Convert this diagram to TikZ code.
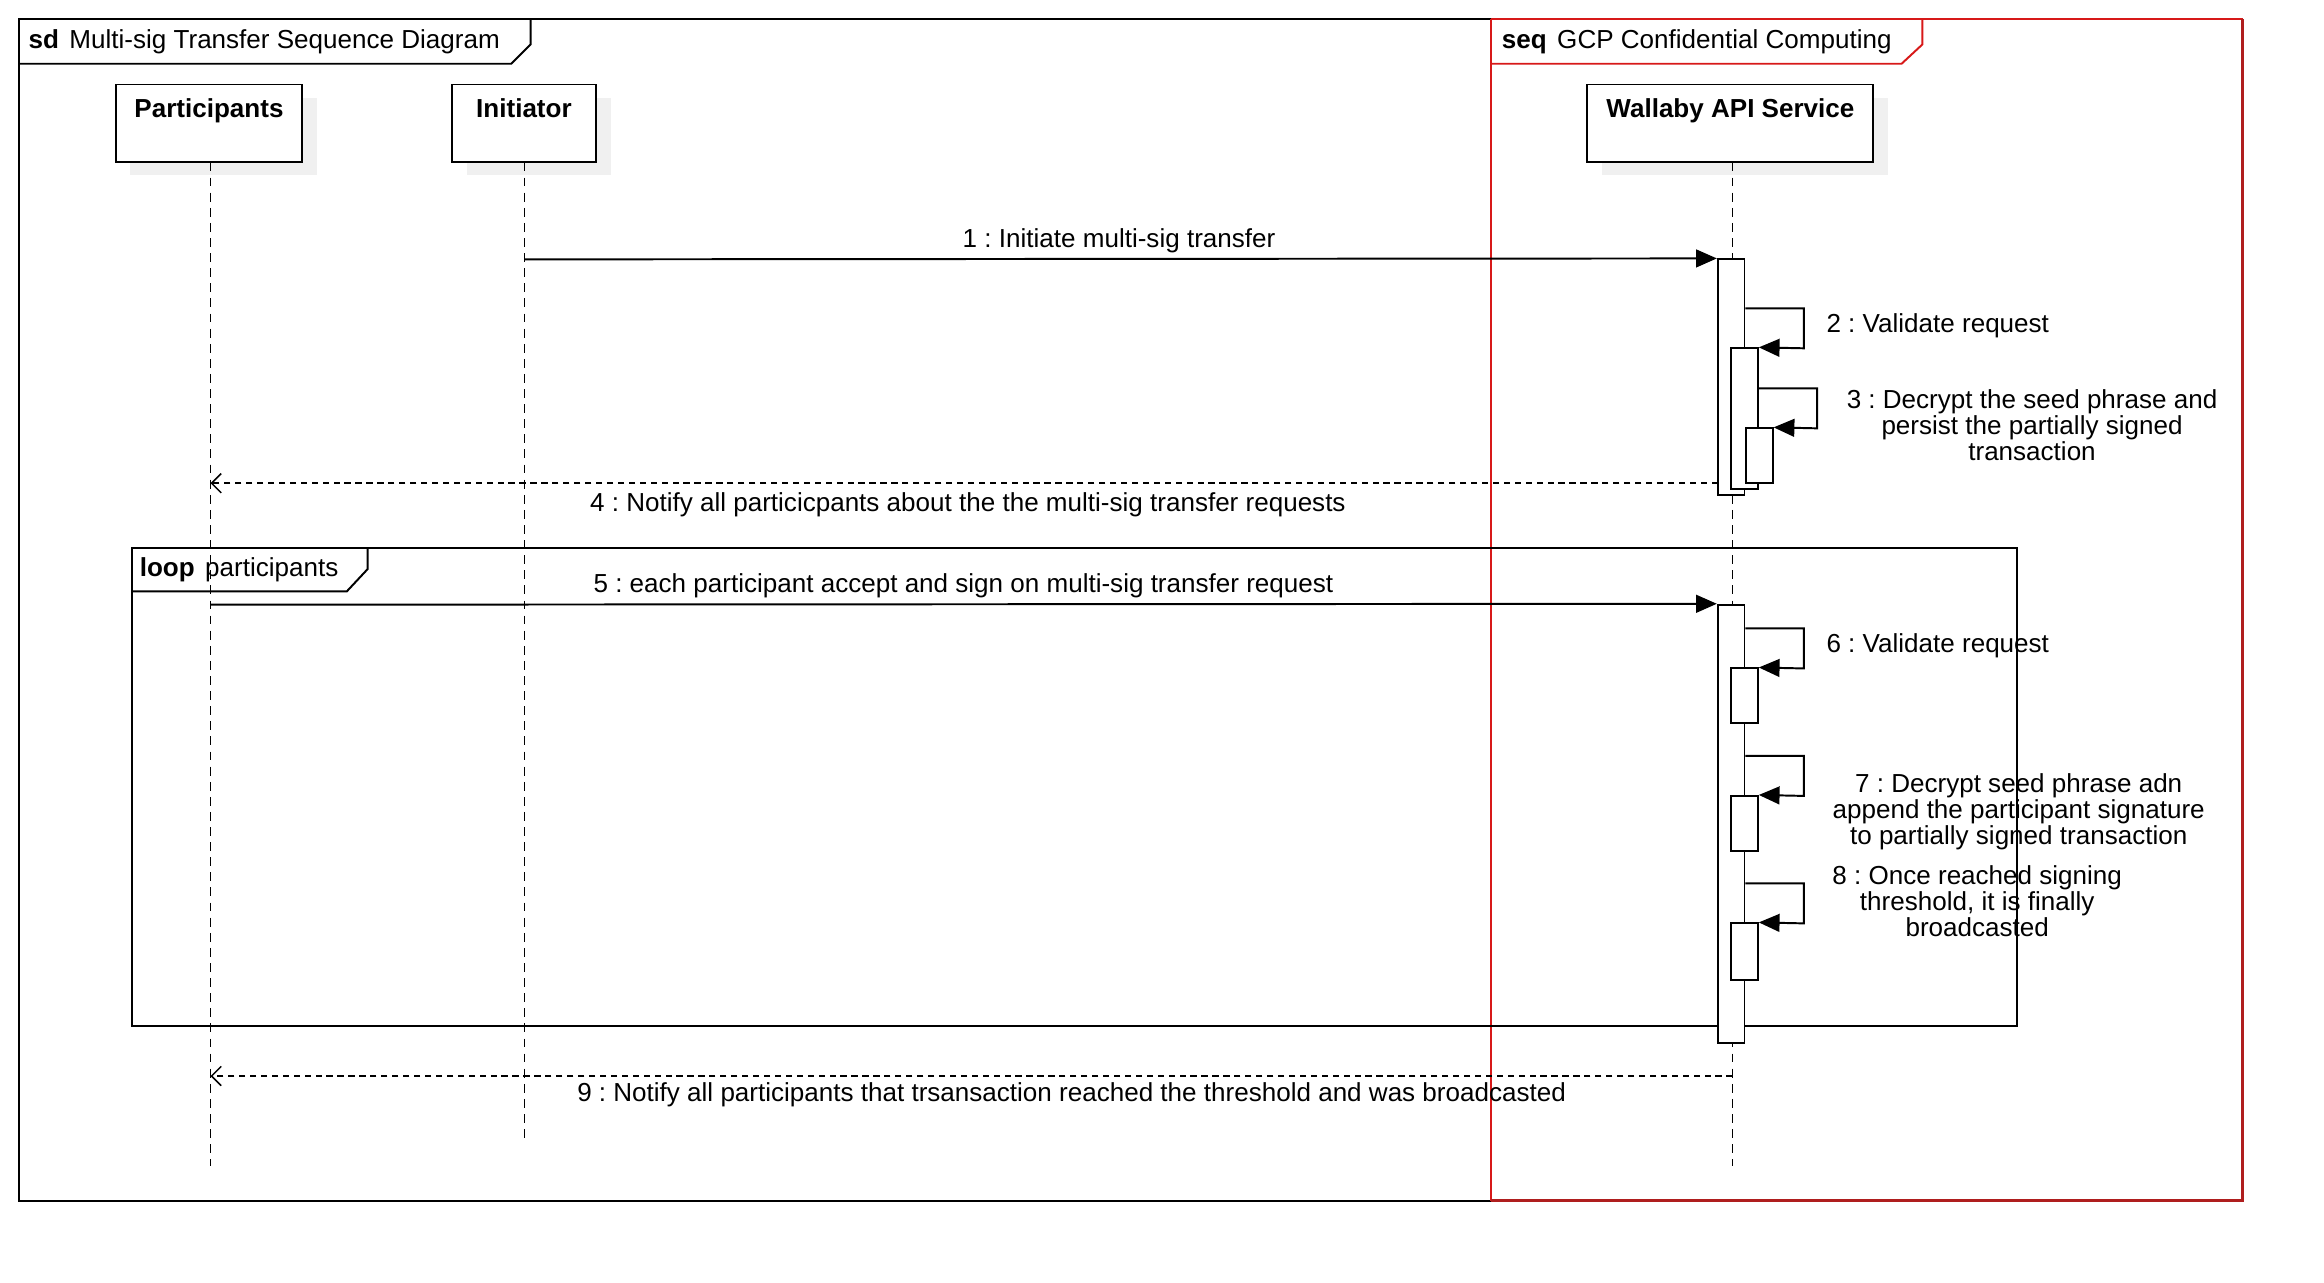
\documentclass[tikz,border=0pt]{standalone}
\usepackage{fontspec}
\setmainfont{Liberation Sans}
\usetikzlibrary{arrows.meta}
\definecolor{shadowgray}{RGB}{240,240,240}
\definecolor{framered}{RGB}{215,25,25}
\definecolor{darkred}{RGB}{175,30,30}
\frenchspacing
\begin{document}
\begin{tikzpicture}[x=0.02cm,y=-0.02cm,
  every node/.style={font=\fontsize{10}{10}\selectfont, inner sep=0pt},
  frameline/.style={line width=0.75pt},
  headbox/.style={draw, line width=0.75pt, fill=white},
  lifeline/.style={line width=0.6pt, dash pattern=on 3.4pt off 2.4pt},
  actbox/.style={draw, line width=0.75pt, fill=white},
  msg/.style={line width=0.75pt, -{Triangle[length=0.28cm,width=0.24cm]}},
  ret/.style={line width=0.6pt, dash pattern=on 2.4pt off 1.8pt, -{Straight Barb[length=0.13cm,width=0.26cm]}},
  msglabel/.style={align=center},
  baselabel/.style={anchor=base},
  headtext/.style={anchor=base, font=\fontsize{10}{10}\selectfont\bfseries}
]
\useasboundingbox (0,0) rectangle (1568,865);

% ---- outer frames ----
\draw[frameline] (1006,13) -- (13,13) -- (13,810) -- (1006,810);
\draw[framered, line width=0.5pt] (1006,13) -- (1006,810);
\draw[framered, line width=0.6pt] (1006,13) -- (1513,13);
\draw[darkred, line width=1.2pt] (1513,13) -- (1513,810) -- (1006,810);
% sd tab
\draw[frameline] (13,43) -- (345,43) -- (358,30) -- (358,13);
\node[anchor=base west] (sdt) at (19,33) {\textbf{sd}\hspace{0.4em}Multi-sig Transfer Sequence Diagram};
% seq tab
\draw[framered, line width=0.75pt] (1006,43) -- (1283,43) -- (1297,30) -- (1297,13);
\node[anchor=base west] (seqt) at (1013,33) {\textbf{seq}\hspace{0.4em}GCP Confidential Computing};

% ---- lifeline heads ----
\fill[shadowgray] (88,66) rectangle (214,118);
\fill[shadowgray] (315,66) rectangle (412,118);
\fill[shadowgray] (1081,66) rectangle (1274,118);
\node[headbox, minimum width=2.52cm, minimum height=1.04cm] (P) at (141,83) {};
\node[headbox, minimum width=1.94cm, minimum height=1.04cm] (I) at (353.5,83) {};
\node[headbox, minimum width=3.86cm, minimum height=1.04cm] (W) at (1167.5,83) {};
\node[headtext] (Pt) at (141,79) {Participants};
\node[headtext] (It) at (353.5,79) {Initiator};
\node[headtext] (Wt) at (1167.5,79) {Wallaby API Service};

% lifeline ends
\coordinate (Pend) at (142,787);
\coordinate (Iend) at (354,770);
\coordinate (Wend) at (1169,787);
\draw[lifeline] (P.south -| Pend) -- (Pend);
\draw[lifeline] (I.south -| Iend) -- (Iend);
\draw[lifeline] (W.south -| Wend) -- (Wend);

% ---- loop frame ----
\draw[frameline] (89,370) rectangle (1361,692);
\draw[frameline] (89,399) -- (234,399) -- (248,384) -- (248,370);
\node[anchor=base west] (loopt) at (94,389) {\textbf{loop}\hspace{0.4em}participants};

% ---- activations ----
\node[actbox, minimum width=0.36cm, minimum height=3.18cm] (A1) at (1168,254.5) {};
\node[actbox, minimum width=0.36cm, minimum height=1.90cm] (A2) at (1177,282.5) {};
\node[actbox, minimum width=0.36cm, minimum height=0.74cm] (A3) at (1187,307.5) {};
\node[actbox, minimum width=0.36cm, minimum height=5.92cm] (A5) at (1168,556) {};
\node[actbox, minimum width=0.36cm, minimum height=0.74cm] (A6) at (1177,469.5) {};
\node[actbox, minimum width=0.36cm, minimum height=0.74cm] (A7) at (1177,555.5) {};
\node[actbox, minimum width=0.36cm, minimum height=0.76cm] (A8) at (1177,642) {};

% ---- message 1 ----
\coordinate (m1s) at (354,175);
\draw[msg] (m1s) -- (A1.north west);
\node[baselabel] (l1) at (755,167) {1 : Initiate multi-sig transfer};

% ---- self message 2 ----
\coordinate (s2a) at (1217,208);
\coordinate (s2b) at (1217,235);
\draw[msg] (A1.east |- s2a) -- (s2a) -- (s2b) -- (A2.north east);
\node[anchor=base west] (l2) at (1232,224) {2 : Validate request};

% ---- self message 3 ----
\coordinate (s3a) at (1226,262);
\coordinate (s3b) at (1226,289);
\draw[msg] (A2.east |- s3a) -- (s3a) -- (s3b) -- (A3.north east);
\node[msglabel] (l3) at (1371,287) {3 : Decrypt the seed phrase and\\persist the partially signed\\transaction};

% ---- message 4 ----
\coordinate (m4s) at (1159,326);
\draw[ret] (m4s) -- (m4s -| Pend);
\node[baselabel] (l4) at (653,345) {4 : Notify all particicpants about the the multi-sig transfer requests};

% ---- message 5 ----
\coordinate (m5s) at (142,408);
\draw[msg] (m5s) -- (A5.north west);
\node[baselabel] (l5) at (650,400) {5 : each participant accept and sign on multi-sig transfer request};

% ---- self message 6 ----
\coordinate (s6a) at (1217,424);
\coordinate (s6b) at (1217,451);
\draw[msg] (A5.east |- s6a) -- (s6a) -- (s6b) -- (A6.north east);
\node[anchor=base west] (l6) at (1232,440) {6 : Validate request};

% ---- self message 7 ----
\coordinate (s7a) at (1217,510);
\coordinate (s7b) at (1217,537);
\draw[msg] (A5.east |- s7a) -- (s7a) -- (s7b) -- (A7.north east);
\node[msglabel] (l7) at (1362,548) {7 : Decrypt seed phrase adn\\append the participant signature\\to partially signed transaction};

% ---- self message 8 ----
\coordinate (s8a) at (1217,596);
\coordinate (s8b) at (1217,623);
\draw[msg] (A5.east |- s8a) -- (s8a) -- (s8b) -- (A8.north east);
\node[msglabel] (l8) at (1334,608) {8 : Once reached signing\\threshold, it is finally\\broadcasted};

% ---- message 9 ----
\coordinate (m9s) at (1169,726);
\draw[ret] (m9s) -- (m9s -| Pend);
\node[baselabel] (l9) at (723,743) {9 : Notify all participants that trsansaction reached the threshold and was broadcasted};
\end{tikzpicture}
\end{document}
